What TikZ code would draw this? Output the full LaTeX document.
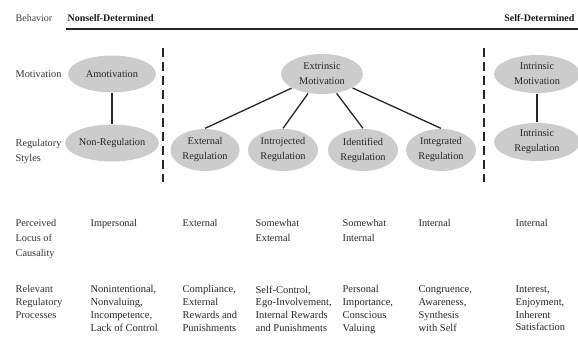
\documentclass[tikz,border=0pt]{standalone}
\usepackage{fontspec}
\setmainfont{Liberation Serif}
\usepackage{tikz}
\usetikzlibrary{shapes.geometric, positioning}

\begin{document}
\begin{tikzpicture}[x=1pt, y=-1pt, line width=1.3pt,
    motive/.style={ellipse, fill=black!20, inner sep=0pt, text=black!85,
                   align=center, font=\fontsize{10.3}{15}\selectfont},
    rowlabel/.style={anchor=north west, inner sep=0pt, align=left, text=black!80,
                     font=\fontsize{10.3}{15}\selectfont},
    cell/.style={anchor=north west, inner sep=0pt, align=left, text=black!85,
                 font=\fontsize{10.5}{12.8}\selectfont},
    link/.style={draw=black!85},
    divider/.style={draw=black!85, dash pattern=on 9pt off 5pt}]
  \useasboundingbox (0,0) rectangle (578,349);

  % Behavior header
  \node[anchor=base west, inner sep=0pt, text=black!75] (beh) at (15,21) {Behavior};
  \node[anchor=base west, inner sep=0pt, font=\bfseries, text=black!90] (nsd) at (67,21)
    {Nonself-Determined};
  \node[anchor=base east, inner sep=0pt, font=\bfseries, text=black!90] (sd) at (575,21)
    {Self-Determined};
  \coordinate (ruleL) at (66,29);
  \coordinate (ruleR) at (578,29);
  \draw[black!85, line width=1.4pt] (ruleL) -- (ruleR);

  % Row labels
  \node[rowlabel] (labmot) at (15,70) {Motivation};
  \node[rowlabel] (labreg) at (15,139) {Regulatory\\Styles};
  \node[rowlabel] (labloc) at (15,219) {Perceived\\Locus of\\Causality};
  \node[cell, text=black!80] (labproc) at (15,285) {Relevant\\Regulatory\\Processes};

  % Motivation and regulation ellipses
  \node[motive, minimum width=88pt, minimum height=37pt] (amot) at (112,74) {Amotivation};
  \node[motive, minimum width=88pt, minimum height=37pt] (nonreg) at (112,143) {Non-Regulation};

  \node[motive, minimum width=82pt, minimum height=40pt] (extr) at (322,74) {Extrinsic\\Motivation};
  \node[motive, minimum width=69pt, minimum height=42pt] (extreg) at (205,150) {External\\Regulation};
  \node[motive, minimum width=70pt, minimum height=42pt] (intro) at (283,150) {Introjected\\Regulation};
  \node[motive, minimum width=70pt, minimum height=42pt] (ident) at (363,150) {Identified\\Regulation};
  \node[motive, minimum width=70pt, minimum height=42pt] (integ) at (441,150) {Integrated\\Regulation};

  \node[motive, minimum width=86pt, minimum height=38pt] (intm) at (537,74) {Intrinsic\\Motivation};
  \node[motive, minimum width=86pt, minimum height=38pt] (intr) at (537,142) {Intrinsic\\Regulation};

  % Connectors
  \draw[link] (amot) -- (nonreg);
  \draw[link] (extr) -- (extreg.north);
  \draw[link] (extr) -- (intro.north);
  \draw[link] (extr) -- (ident.north);
  \draw[link] (extr) -- (integ.north);
  \draw[link] (intm) -- (intr);

  % Dashed dividers
  \coordinate (divAtop) at (163,48);
  \coordinate (divAbot) at (163,182);
  \coordinate (divBtop) at (484,48);
  \coordinate (divBbot) at (484,182);
  \draw[divider] (divAtop) -- (divAbot);
  \draw[divider] (divBtop) -- (divBbot);

  % Locus of causality
  \node[rowlabel, text=black!85] (locA) at (90,219) {Impersonal};
  \node[rowlabel, text=black!85] (locB) at (182,219) {External};
  \node[rowlabel, text=black!85] (locC) at (255,219) {Somewhat\\External};
  \node[rowlabel, text=black!85] (locD) at (342,219) {Somewhat\\Internal};
  \node[rowlabel, text=black!85] (locE) at (418,219) {Internal};
  \node[rowlabel, text=black!85] (locF) at (515,219) {Internal};

  % Regulatory processes
  \node[cell] (procA) at (90,285) {Nonintentional,\\Nonvaluing,\\Incompetence,\\Lack of Control};
  \node[cell] (procB) at (182,285) {Compliance,\\External\\Rewards and\\Punishments};
  \node[cell] (procC) at (255,285) {Self-Control,\\Ego-Involvement,\\Internal Rewards\\and Punishments};
  \node[cell] (procD) at (342,285) {Personal\\Importance,\\Conscious\\Valuing};
  \node[cell] (procE) at (418,285) {Congruence,\\Awareness,\\Synthesis\\with Self};
  \node[cell] (procF) at (515,285) {Interest,\\Enjoyment,\\Inherent\\Satisfaction};
\end{tikzpicture}
\end{document}
